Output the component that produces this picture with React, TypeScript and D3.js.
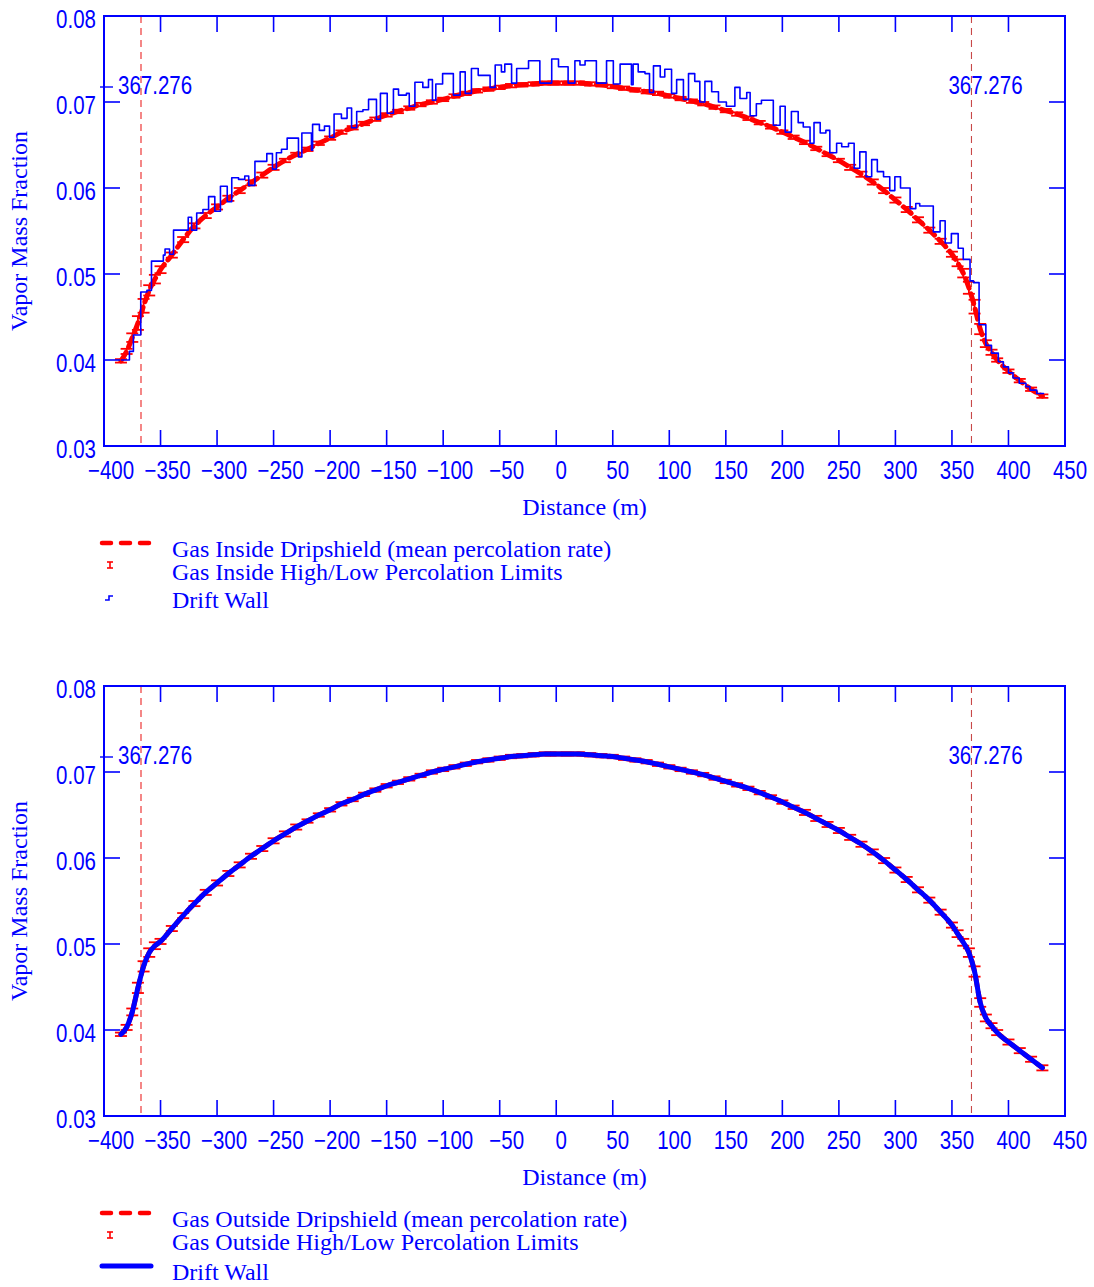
import React from "react";
import * as d3 from "d3";

// ---------------- data ----------------
const distances = [
  -385, -380, -375, -370, -365, -360, -355, -350,
  -340, -330, -320, -310, -300, -290, -280, -270, -260, -250,
  -240, -230, -220, -210, -200, -190, -180, -170, -160, -150,
  -140, -130, -120, -110, -100, -90, -80, -70, -60, -50,
  -40, -30, -20, -10, 0, 10, 20, 30, 40, 50,
  60, 70, 80, 90, 100, 110, 120, 130, 140, 150,
  160, 170, 180, 190, 200, 210, 220, 230, 240, 250,
  260, 270, 280, 290, 300, 310, 320, 330, 340, 350,
  355, 360, 365, 370, 375, 380, 385, 390,
  400, 410, 420, 430,
];

const insideMean = [
  0.0399, 0.041, 0.0426, 0.0443, 0.0463, 0.0481, 0.0494, 0.0505,
  0.0522, 0.054, 0.0556, 0.0568, 0.0578, 0.0588, 0.0597, 0.0606, 0.0615, 0.0624,
  0.0632, 0.0639, 0.0645, 0.0652, 0.0658, 0.0665, 0.067, 0.0675, 0.068, 0.0685,
  0.0689, 0.0693, 0.0697, 0.07, 0.0703, 0.0707, 0.071, 0.0713, 0.0715, 0.0717,
  0.0719, 0.072, 0.0721, 0.0722, 0.0722, 0.0722, 0.0722, 0.0721, 0.072, 0.0718,
  0.0716, 0.0714, 0.0712, 0.071, 0.0707, 0.0704, 0.0701, 0.0698, 0.0694, 0.069,
  0.0686, 0.0681, 0.0676, 0.0671, 0.0665, 0.0659, 0.0653, 0.0646, 0.0639, 0.0632,
  0.0624, 0.0616, 0.0607, 0.0597, 0.0586, 0.0575, 0.0563, 0.0551, 0.0538, 0.0523,
  0.0513, 0.0501, 0.0484, 0.0462, 0.0436, 0.0419, 0.0409, 0.04,
  0.0387, 0.0376, 0.0366, 0.0358,
];

const insideErr = [
  0.0002, 0.0003, 0.0005, 0.0008, 0.0008, 0.0006, 0.0005, 0.0004,
  0.0003, 0.0003, 0.0003, 0.0003, 0.0003, 0.0003, 0.0003, 0.0003, 0.0003, 0.0003,
  0.0002, 0.0002, 0.0002, 0.0002, 0.0002, 0.0002, 0.0002, 0.0002, 0.0002, 0.0002,
  0.0002, 0.0002, 0.0002, 0.0002, 0.0002, 0.0002, 0.0002, 0.0002, 0.0002, 0.0002,
  0.0002, 0.0002, 0.0002, 0.0002, 0.0002, 0.0002, 0.0002, 0.0002, 0.0002, 0.0002,
  0.0002, 0.0002, 0.0002, 0.0002, 0.0002, 0.0002, 0.0002, 0.0002, 0.0002, 0.0002,
  0.0002, 0.0002, 0.0002, 0.0002, 0.0002, 0.0002, 0.0002, 0.0002, 0.0002, 0.0002,
  0.0003, 0.0003, 0.0003, 0.0003, 0.0003, 0.0003, 0.0003, 0.0003, 0.0003, 0.0003,
  0.0004, 0.0005, 0.0007, 0.0008, 0.0006, 0.0004, 0.0003, 0.0002,
  0.0002, 0.0002, 0.0002, 0.0002,
];

const outsideMean = [
  0.0395, 0.0403, 0.0421, 0.0449, 0.0474, 0.049, 0.0498, 0.0503,
  0.0518, 0.0533, 0.0547, 0.056, 0.0571, 0.0582, 0.0592, 0.0602, 0.0611, 0.062,
  0.0628, 0.0636, 0.0643, 0.065, 0.0656, 0.0663, 0.0668, 0.0674, 0.0679, 0.0684,
  0.0688, 0.0692, 0.0696, 0.07, 0.0703, 0.0706, 0.0709, 0.0712, 0.0714, 0.0716,
  0.0718, 0.0719, 0.072, 0.0721, 0.0721, 0.0721, 0.0721, 0.072, 0.0719, 0.0718,
  0.0716, 0.0714, 0.0712, 0.0709, 0.0706, 0.0703, 0.07, 0.0697, 0.0693, 0.0689,
  0.0685, 0.0681, 0.0676, 0.0671, 0.0665, 0.0659, 0.0653, 0.0646, 0.0639, 0.0632,
  0.0624, 0.0616, 0.0607, 0.0597, 0.0586, 0.0575, 0.0563, 0.0551, 0.0537, 0.0522,
  0.0512, 0.0502, 0.049, 0.0468, 0.0432, 0.0414, 0.0405, 0.0397,
  0.0386, 0.0376, 0.0366, 0.0356,
];

const outsideErr = [
  0.0002, 0.0003, 0.0004, 0.0006, 0.0006, 0.0005, 0.0004, 0.0003,
  0.0003, 0.0003, 0.0003, 0.0003, 0.0003, 0.0003, 0.0003, 0.0003, 0.0003, 0.0003,
  0.0003, 0.0003, 0.0002, 0.0002, 0.0002, 0.0002, 0.0002, 0.0002, 0.0002, 0.0002,
  0.0002, 0.0002, 0.0002, 0.0002, 0.0002, 0.0002, 0.0002, 0.0002, 0.0002, 0.0002,
  0.0002, 0.0002, 0.0002, 0.0002, 0.0002, 0.0002, 0.0002, 0.0002, 0.0002, 0.0002,
  0.0002, 0.0002, 0.0002, 0.0002, 0.0002, 0.0002, 0.0002, 0.0002, 0.0002, 0.0002,
  0.0002, 0.0002, 0.0002, 0.0002, 0.0002, 0.0002, 0.0003, 0.0003, 0.0003, 0.0003,
  0.0003, 0.0003, 0.0003, 0.0003, 0.0003, 0.0003, 0.0003, 0.0003, 0.0003, 0.0003,
  0.0004, 0.0004, 0.0005, 0.0006, 0.0005, 0.0004, 0.0003, 0.0003,
  0.0003, 0.0003, 0.0003, 0.0003,
];

const driftWallOutside = [
  0.0395, 0.0403, 0.0421, 0.0449, 0.0474, 0.049, 0.0498, 0.0503,
  0.0518, 0.0533, 0.0547, 0.056, 0.0571, 0.0582, 0.0592, 0.0602, 0.0611, 0.062,
  0.0628, 0.0636, 0.0643, 0.065, 0.0656, 0.0663, 0.0668, 0.0674, 0.0679, 0.0684,
  0.0688, 0.0692, 0.0696, 0.07, 0.0703, 0.0706, 0.0709, 0.0712, 0.0714, 0.0716,
  0.0718, 0.0719, 0.072, 0.0721, 0.0721, 0.0721, 0.0721, 0.072, 0.0719, 0.0718,
  0.0716, 0.0714, 0.0712, 0.0709, 0.0706, 0.0703, 0.07, 0.0697, 0.0693, 0.0689,
  0.0685, 0.0681, 0.0676, 0.0671, 0.0665, 0.0659, 0.0653, 0.0646, 0.0639, 0.0632,
  0.0624, 0.0616, 0.0607, 0.0597, 0.0586, 0.0575, 0.0563, 0.0551, 0.0537, 0.0522,
  0.0512, 0.0502, 0.049, 0.0468, 0.0432, 0.0414, 0.0405, 0.0397,
  0.0386, 0.0376, 0.0366, 0.0356,
];

// Drift wall (top panel) is a step series: start distance of each step and its value
const driftWallInsideStart = [
  -384.5, -377.5, -374, -367.5, -362, -358, -347.5, -346, -342, -338.5,
  -325.5, -322.5, -318, -312.5, -307.5, -302, -297, -291, -287, -281,
  -275.5, -272, -266.5, -256, -251, -247.5, -243, -238, -228, -225,
  -216.5, -215.5, -209.5, -205, -200.5, -196.5, -190, -185, -181, -176.5,
  -171, -166, -159, -155.5, -149.5, -144, -139.5, -132.5, -130, -125,
  -118, -113, -109.5, -106.5, -100.5, -91, -85, -80.5, -75, -69,
  -58.5, -54, -48.5, -45.5, -39.5, -35, -24.5, -14.5, -4, 2,
  10.5, 16.5, 21, 25.5, 35.5, 44.5, 50.5, 56.5, 66.5, 68,
  72.5, 78.5, 82.5, 86, 92, 96, 102, 106.5, 112.5, 117,
  122.5, 127, 131.5, 137.5, 143.5, 150.5, 158, 162.5, 168.5, 171.5,
  177, 181.5, 192, 198, 202.5, 208, 214, 218.5, 224.5, 228,
  233.5, 238.5, 242, 248, 252.5, 258.5, 263.5, 268.5, 274, 279,
  284, 289.5, 295, 299.5, 304.5, 313, 318, 321.5, 333.5, 339.5,
  344, 349.5, 355.5, 360, 366, 369, 374, 380, 385, 391,
  395.5, 400, 404, 409.5, 415.5, 419, 425,
];
const driftWallInsideValue = [
  0.04, 0.041, 0.0429, 0.0479, 0.0481, 0.0515, 0.0522, 0.0529, 0.0523, 0.0551,
  0.0566, 0.0551, 0.0571, 0.0575, 0.059, 0.0573, 0.0602, 0.0584, 0.0612, 0.061,
  0.0614, 0.0603, 0.0631, 0.064, 0.0622, 0.0641, 0.0645, 0.0658, 0.0636, 0.0664,
  0.0644, 0.0674, 0.0667, 0.0672, 0.0659, 0.0686, 0.0681, 0.0693, 0.067, 0.0689,
  0.0691, 0.0703, 0.068, 0.071, 0.0687, 0.0715, 0.0708, 0.071, 0.0695, 0.0723,
  0.0717, 0.0726, 0.0702, 0.0721, 0.0733, 0.0708, 0.0735, 0.071, 0.0739, 0.0731,
  0.0717, 0.0743, 0.0735, 0.0744, 0.0722, 0.0739, 0.0748, 0.0722, 0.075, 0.0741,
  0.0722, 0.0748, 0.0743, 0.0748, 0.0722, 0.0748, 0.0721, 0.0744, 0.072, 0.0744,
  0.0735, 0.0733, 0.0711, 0.0742, 0.0729, 0.0738, 0.071, 0.0726, 0.0703, 0.0733,
  0.0724, 0.07, 0.0724, 0.0712, 0.07, 0.0695, 0.0717, 0.0704, 0.0711, 0.0684,
  0.0698, 0.0702, 0.0673, 0.0695, 0.0665, 0.0689, 0.0676, 0.0671, 0.0652, 0.0676,
  0.0664, 0.0667, 0.0641, 0.0652, 0.0648, 0.0652, 0.0623, 0.0642, 0.0613, 0.0633,
  0.0619, 0.0613, 0.0597, 0.0613, 0.06, 0.0576, 0.0582, 0.0579, 0.0549, 0.0562,
  0.0536, 0.0547, 0.053, 0.0517, 0.0492, 0.049, 0.0441, 0.0417, 0.0408, 0.0398,
  0.0392, 0.0385, 0.0379, 0.0373, 0.0369, 0.0365, 0.0361,
];
const driftWallInsideEnd = 431;

const xTicks = [-400, -350, -300, -250, -200, -150, -100, -50, 0, 50, 100, 150, 200, 250, 300, 350, 400, 450];
const yTicks = [0.03, 0.04, 0.05, 0.06, 0.07, 0.08];
const markerDistances = [-367.276, 367.276];
const markerLabel = "367.276";

const topLegend = [
  "Gas Inside Dripshield (mean percolation rate)",
  "Gas Inside High/Low Percolation Limits",
  "Drift Wall",
];
const bottomLegend = [
  "Gas Outside Dripshield (mean percolation rate)",
  "Gas Outside High/Low Percolation Limits",
  "Drift Wall",
];

// ---------------- layout ----------------
const W = 1094;
const H = 1287;
const PL = 104;
const PR = 1065;
const PT = 16;
const PB = 446;
const PANEL_OFFSET = 670;
const BLUE = "#0000ff";
const RED = "#ff0000";
const SANS = "'Liberation Sans',Arial,sans-serif";
const SERIF = "'Liberation Serif','Times New Roman',serif";
const NARROW = 0.82;

const fmtX = (v: number) => (v < 0 ? "\u2212" + Math.abs(v) : String(v));
const fmtY = d3.format(".2f");

function NText({ x, y, anchor, children }: { x: number; y: number; anchor: string; children: React.ReactNode }) {
  return (
    <text
      transform={`translate(${x},${y}) scale(${NARROW},1)`}
      textAnchor={anchor}
      fontFamily={SANS}
      fontSize={25}
      fill={BLUE}
    >
      {children}
    </text>
  );
}

type PanelProps = {
  offsetY: number;
  id: string;
  mean: number[];
  err: number[];
  variant: "step" | "line";
  legend: string[];
};

function Panel({ offsetY, id, mean, err, variant, legend }: PanelProps) {
  const x = d3.scaleLinear().domain([-400, 450]).range([PL, PR]);
  const y = d3.scaleLinear().domain([0.03, 0.08]).range([PB, PT]);

  const meanPath = d3
    .line<number>()
    .x((_, i) => x(distances[i]))
    .y((d) => y(d))
    .curve(d3.curveMonotoneX)(mean) as string;

  let wallPath = "";
  if (variant === "step") {
    const pts: [number, number][] = driftWallInsideStart.map((s, i) => [s, driftWallInsideValue[i]]);
    pts.push([driftWallInsideEnd, driftWallInsideValue[driftWallInsideValue.length - 1]]);
    wallPath = d3
      .line<[number, number]>()
      .x((d) => x(d[0]))
      .y((d) => y(d[1]))
      .curve(d3.curveStepAfter)(pts) as string;
  } else {
    wallPath = d3
      .line<number>()
      .x((_, i) => x(distances[i]))
      .y((d) => y(d))
      .curve(d3.curveMonotoneX)(driftWallOutside) as string;
  }

  const capW = 6;

  return (
    <g transform={`translate(0,${offsetY})`}>
      <defs>
        <clipPath id={id}>
          <rect x={PL} y={PT} width={PR - PL} height={PB - PT} />
        </clipPath>
      </defs>

      {/* marker lines */}
      {markerDistances.map((m, i) => (
        <line
          key={"ml" + i}
          x1={x(m)}
          x2={x(m)}
          y1={PT}
          y2={PB}
          stroke={i === 0 ? "#f26a6a" : "#c84848"}
          strokeWidth={i === 0 ? 1.6 : 1.1}
          strokeDasharray="7 5"
        />
      ))}

      <g clipPath={`url(#${id})`}>
        {/* mean line */}
        <path d={meanPath} fill="none" stroke={RED} strokeWidth={5} strokeDasharray="10 6" strokeLinecap="round" />
        {/* error bars */}
        {mean.map((m, i) => {
          const cx = x(distances[i]);
          const y1 = y(m - err[i]);
          const y2 = y(m + err[i]);
          return (
            <g key={"e" + i} stroke={RED} strokeWidth={1.8}>
              <line x1={cx} x2={cx} y1={y1} y2={y2} />
              <line x1={cx - capW} x2={cx + capW} y1={y1} y2={y1} />
              <line x1={cx - capW} x2={cx + capW} y1={y2} y2={y2} />
            </g>
          );
        })}
        {/* drift wall */}
        <path
          d={wallPath}
          fill="none"
          stroke={BLUE}
          strokeWidth={variant === "step" ? 1.6 : 5}
          strokeLinecap="round"
          strokeLinejoin="round"
        />
      </g>

      {/* frame */}
      <rect x={PL} y={PT} width={PR - PL} height={PB - PT} fill="none" stroke={BLUE} strokeWidth={2} />

      {/* ticks */}
      {xTicks.map((t) => (
        <g key={"xt" + t} stroke={BLUE} strokeWidth={1.6}>
          <line x1={x(t)} x2={x(t)} y1={PB} y2={PB - 16} />
          <line x1={x(t)} x2={x(t)} y1={PT} y2={PT + 16} />
        </g>
      ))}
      {yTicks.map((t) => (
        <g key={"yt" + t} stroke={BLUE} strokeWidth={1.6}>
          <line x1={PL} x2={PL + 16} y1={y(t)} y2={y(t)} />
          <line x1={PR - 16} x2={PR} y1={y(t)} y2={y(t)} />
        </g>
      ))}
      <line x1={PL - 4} x2={PL + 9} y1={87} y2={87} stroke={BLUE} strokeWidth={1.4} />

      {/* tick labels */}
      {xTicks.map((t) => (
        <NText key={"xl" + t} x={x(t) + (t < 0 ? 7 : 5)} y={PB + 33} anchor="middle">
          {fmtX(t)}
        </NText>
      ))}
      {yTicks.map((t) => (
        <NText key={"yl" + t} x={96} y={y(t) + 12} anchor="end">
          {fmtY(t)}
        </NText>
      ))}

      {/* marker labels */}
      {markerDistances.map((m, i) => (
        <NText key={"mt" + i} x={x(m) - 23} y={94} anchor="start">
          {markerLabel}
        </NText>
      ))}

      {/* axis titles */}
      <text
        transform={`translate(27,${(PT + PB) / 2}) rotate(-90)`}
        textAnchor="middle"
        fontFamily={SERIF}
        fontSize={24}
        fill={BLUE}
      >
        Vapor Mass Fraction
      </text>
      <text x={(PL + PR) / 2} y={515} textAnchor="middle" fontFamily={SERIF} fontSize={24} fill={BLUE}>
        Distance (m)
      </text>

      {/* legend */}
      <line x1={102} x2={150} y1={543} y2={543} stroke={RED} strokeWidth={4.5} strokeDasharray="9 10" strokeLinecap="round" />
      <g stroke={RED} strokeWidth={1.6}>
        <line x1={110} x2={110} y1={562} y2={568} />
        <line x1={107} x2={113} y1={562} y2={562} />
        <line x1={107} x2={113} y1={568} y2={568} />
      </g>
      {variant === "step" ? (
        <path d="M105,600 H109 V596 H113" fill="none" stroke={BLUE} strokeWidth={1.6} />
      ) : (
        <line x1={102} x2={151} y1={596} y2={596} stroke={BLUE} strokeWidth={5} strokeLinecap="round" />
      )}
      {legend.map((l, i) => (
        <text
          key={"lg" + i}
          x={172}
          y={[557, 580, variant === "step" ? 608 : 610][i]}
          fontFamily={SERIF}
          fontSize={24}
          fill={BLUE}
        >
          {l}
        </text>
      ))}
    </g>
  );
}

export default function App() {
  return (
    <div style={{ position: "absolute", left: 0, top: 0, width: W, height: H, background: "#fff" }}>
      <svg width={W} height={H} viewBox={`0 0 ${W} ${H}`} style={{ display: "block" }}>
        <rect width={W} height={H} fill="#fff" />
        <Panel offsetY={0} id="clipTop" mean={insideMean} err={insideErr} variant="step" legend={topLegend} />
        <Panel
          offsetY={PANEL_OFFSET}
          id="clipBottom"
          mean={outsideMean}
          err={outsideErr}
          variant="line"
          legend={bottomLegend}
        />
      </svg>
    </div>
  );
}
